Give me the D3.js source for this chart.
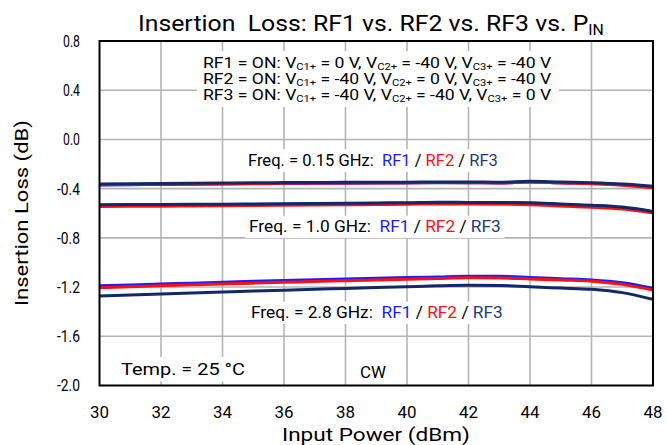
<!DOCTYPE html>
<html>
<head>
<meta charset="utf-8">
<script src="https://cdn.jsdelivr.net/npm/d3@7/dist/d3.min.js"></script>
<style>
  html, body { margin: 0; padding: 0; background: #fff; }
  text { font-family: Roboto, "Liberation Sans", Arial, sans-serif; font-weight: 400; fill: #000; white-space: pre; }
</style>
</head>
<body>
<svg id="chart" width="667" height="445"></svg>
<script>
// Input power sweep (dBm)
const inputPower = [30, 31, 32, 33, 34, 35, 36, 37, 38, 39, 40, 41, 42, 43, 44, 45, 46, 47, 48];

// Insertion loss (dB) at 0.15 GHz
const il015RF1 = [-0.370, -0.368, -0.366, -0.364, -0.362, -0.360, -0.358, -0.357, -0.356, -0.355, -0.354, -0.352, -0.352, -0.354, -0.347, -0.353, -0.358, -0.368, -0.388];
const il015RF2 = [-0.368, -0.366, -0.364, -0.362, -0.360, -0.358, -0.357, -0.356, -0.355, -0.354, -0.353, -0.351, -0.352, -0.354, -0.346, -0.354, -0.360, -0.372, -0.392];
const il015RF3 = [-0.362, -0.360, -0.358, -0.356, -0.354, -0.352, -0.351, -0.350, -0.349, -0.349, -0.348, -0.346, -0.345, -0.348, -0.339, -0.346, -0.352, -0.362, -0.380];

// Insertion loss (dB) at 1.0 GHz
const il10RF1 = [-0.535, -0.534, -0.533, -0.532, -0.531, -0.529, -0.527, -0.525, -0.523, -0.521, -0.519, -0.515, -0.517, -0.518, -0.519, -0.530, -0.540, -0.555, -0.590];
const il10RF2 = [-0.545, -0.544, -0.543, -0.541, -0.539, -0.537, -0.535, -0.533, -0.531, -0.529, -0.527, -0.524, -0.525, -0.527, -0.530, -0.541, -0.551, -0.566, -0.598];
const il10RF3 = [-0.530, -0.529, -0.528, -0.527, -0.526, -0.524, -0.522, -0.520, -0.518, -0.516, -0.514, -0.510, -0.512, -0.513, -0.514, -0.525, -0.535, -0.550, -0.585];

// Insertion loss (dB) at 2.8 GHz
const il28RF1 = [-1.190, -1.183, -1.175, -1.168, -1.160, -1.153, -1.147, -1.141, -1.135, -1.129, -1.123, -1.118, -1.113, -1.113, -1.122, -1.132, -1.142, -1.165, -1.210];
const il28RF2 = [-1.205, -1.197, -1.190, -1.182, -1.175, -1.168, -1.161, -1.155, -1.148, -1.142, -1.136, -1.130, -1.125, -1.126, -1.134, -1.143, -1.152, -1.178, -1.225];
const il28RF3 = [-1.272, -1.264, -1.256, -1.248, -1.240, -1.232, -1.225, -1.218, -1.211, -1.204, -1.197, -1.190, -1.186, -1.187, -1.198, -1.208, -1.218, -1.245, -1.300];

// Axis ticks
const xTicks = [30, 32, 34, 36, 38, 40, 42, 44, 46, 48];
const yTicks = [0.8, 0.4, 0.0, -0.4, -0.8, -1.2, -1.6, -2.0];

const colors = { RF1: "#1c1cff", RF2: "#ff1010", RF3: "#13276b" };
const labelNavy = "#1f3a78";

const series = [
  { name: "RF1", values: il015RF1 }, { name: "RF2", values: il015RF2 }, { name: "RF3", values: il015RF3 },
  { name: "RF1", values: il10RF1 },  { name: "RF2", values: il10RF2 },  { name: "RF3", values: il10RF3 },
  { name: "RF1", values: il28RF1 },  { name: "RF2", values: il28RF2 },  { name: "RF3", values: il28RF3 }
];

const plot = { left: 99.5, right: 653, top: 41, bottom: 385.5 };

const svg = d3.select("#chart");
const x = d3.scaleLinear().domain([30, 48]).range([plot.left, plot.right]);
const y = d3.scaleLinear().domain([-2.0, 0.8]).range([plot.bottom, plot.top]);

// Horizontally fit a text element to a width (or by a factor) around an anchor point
function squeeze(sel, opts) {
  const node = sel.node();
  const w = node.getBBox().width;
  const s = opts.width ? opts.width / w : opts.factor;
  const ax = opts.ax;
  sel.attr("transform", `translate(${ax},0) scale(${s},1) translate(${-ax},0)`);
  return sel;
}

// Gridlines
const grid = svg.append("g").attr("stroke", "#b4b4b4").attr("stroke-width", 1.6);
grid.selectAll("line.v").data(xTicks.slice(1, -1)).join("line")
  .attr("x1", d => x(d)).attr("x2", d => x(d)).attr("y1", plot.top).attr("y2", plot.bottom);
grid.selectAll("line.h").data(yTicks.slice(1, -1)).join("line")
  .attr("x1", plot.left).attr("x2", plot.right).attr("y1", d => y(d)).attr("y2", d => y(d));

// White backings sit above the grid but below the curves
const backLayer = svg.append("g");
const curveLayer = svg.append("g");
const textLayer = svg.append("g");

// Curves
const line = d3.line().x((d, i) => x(inputPower[i])).y(d => y(d)).curve(d3.curveMonotoneX);
const drawOrder = ["RF1", "RF2", "RF3"];
curveLayer.selectAll("path")
  .data(series.slice().sort((a, b) => drawOrder.indexOf(a.name) - drawOrder.indexOf(b.name)))
  .join("path")
  .attr("d", d => line(d.values))
  .attr("fill", "none")
  .attr("stroke", d => colors[d.name])
  .attr("stroke-width", 3)
  .attr("stroke-linejoin", "round");

function backing(t, pad) {
  const b = t.node().getBoundingClientRect();
  const sb = svg.node().getBoundingClientRect();
  backLayer.append("rect").attr("fill", "#fff")
    .attr("x", b.left - sb.left - pad[0]).attr("y", b.top - sb.top - pad[1])
    .attr("width", b.width + 2 * pad[0]).attr("height", b.height + 2 * pad[1]);
  return t;
}

// Bias condition block (one text element, one line per switch state)
const biasLines = [
  ["RF1 = ON: ", ["0", "-40", "-40"]],
  ["RF2 = ON: ", ["-40", "0", "-40"]],
  ["RF3 = ON: ", ["-40", "-40", "0"]]
];
const bias = textLayer.append("text").attr("x", 203).attr("y", 68).attr("font-size", 15);
biasLines.forEach((row, i) => {
  const first = bias.append("tspan").text(row[0]);
  if (i > 0) first.attr("x", 203).attr("dy", 16);
  row[1].forEach((v, k) => {
    bias.append("tspan").text("V");
    bias.append("tspan").attr("font-size", 9.5).attr("dy", 2.5).text(`C${k + 1}+`);
    bias.append("tspan").attr("dy", -2.5).text(` = ${v} V` + (k < 2 ? ", " : ""));
  });
});
squeeze(bias, { width: 349, ax: 203 });
backLayer.append("rect").attr("fill", "#fff")
  .attr("x", 197).attr("y", 51).attr("width", 362).attr("height", 56);

// Frequency labels (placed by the loss level they sit at)
const freqLabels = [
  { f: "0.15", v: -0.167, x0: 248, x1: 498 },
  { f: "1.0",  v: -0.704, x0: 249, x1: 501 },
  { f: "2.8",  v: -1.403, x0: 251, x1: 503 }
];
freqLabels.forEach(fl => {
  const t = textLayer.append("text").attr("x", fl.x0).attr("y", y(fl.v) + 6).attr("font-size", 16);
  t.append("tspan").text(`Freq. = ${fl.f} GHz:  `);
  t.append("tspan").attr("fill", colors.RF1).text("RF1");
  t.append("tspan").text(" / ");
  t.append("tspan").attr("fill", colors.RF2).text("RF2");
  t.append("tspan").text(" / ");
  t.append("tspan").attr("fill", labelNavy).text("RF3");
  backing(squeeze(t, { width: fl.x1 - fl.x0, ax: fl.x0 }), [4, 2]);
});

backing(squeeze(textLayer.append("text").attr("x", 121).attr("y", 375).attr("font-size", 16)
  .text("Temp. = 25 °C"), { width: 124, ax: 121 }), [4, 3]);
backing(squeeze(textLayer.append("text").attr("x", 360).attr("y", 378).attr("font-size", 16)
  .text("CW"), { width: 26, ax: 360 }), [4, 3]);

// Plot frame
svg.append("rect")
  .attr("x", plot.left).attr("y", plot.top)
  .attr("width", plot.right - plot.left).attr("height", plot.bottom - plot.top)
  .attr("fill", "none").attr("stroke", "#000").attr("stroke-width", 2);

// Tick labels
yTicks.forEach(v => {
  const t = svg.append("text").attr("x", 80).attr("y", y(v) + 6).attr("font-size", 16)
    .attr("text-anchor", "end").text(v.toFixed(1));
  squeeze(t, { width: v < 0 ? 23 : 17, ax: 80 });
});
xTicks.forEach(v => {
  const t = svg.append("text").attr("x", x(v)).attr("y", 418).attr("font-size", 16)
    .attr("text-anchor", "middle").text(v);
  squeeze(t, { width: 19, ax: x(v) });
});

// Axis titles
squeeze(svg.append("text").attr("x", 376).attr("y", 441).attr("font-size", 18)
  .attr("text-anchor", "middle").text("Input Power (dBm)"), { width: 188, ax: 376 });

const yt = svg.append("g").attr("transform", "translate(28,213) rotate(-90)");
const ytt = yt.append("text").attr("x", 0).attr("y", 0).attr("font-size", 18)
  .attr("text-anchor", "middle").text("Insertion Loss (dB)");
squeeze(ytt, { width: 186, ax: 0 });

// Title
const title = svg.append("text").attr("x", 138).attr("y", 31).attr("font-size", 22);
title.append("tspan").text("Insertion  Loss: RF1 vs. RF2 vs. RF3 vs. P");
title.append("tspan").attr("font-size", 14).attr("dy", 4).text("IN");
squeeze(title, { width: 466, ax: 138 });
</script>
</body>
</html>
